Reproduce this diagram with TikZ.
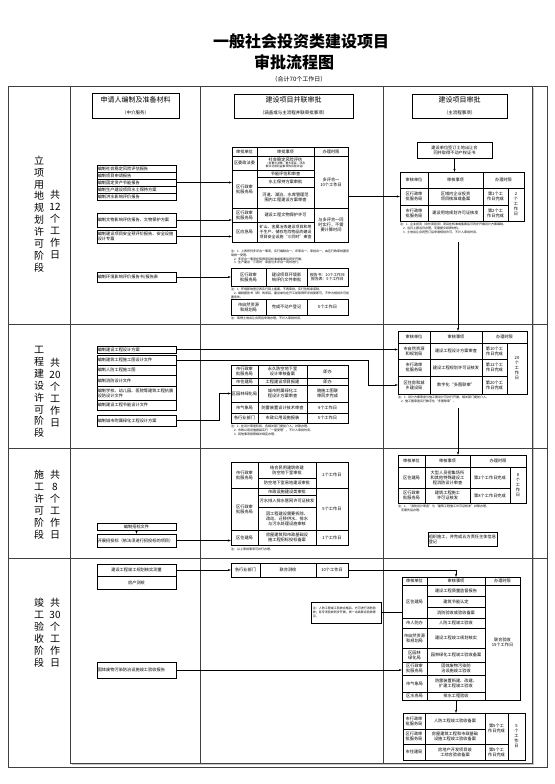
\documentclass[tikz,border=0pt]{standalone}
\usepackage{fontspec}
\setmainfont{Noto Sans CJK SC}
\usetikzlibrary{arrows.meta}
\XeTeXlinebreaklocale "zh"
\XeTeXlinebreakskip = 0pt
\tikzset{
  frame/.style={draw, line width=0.6pt, black!75},
  cellbox/.style={draw, line width=0.4pt, inner xsep=0.5pt, inner ysep=0.3pt, align=center, font=\fontsize{4.2}{5}\selectfont},
  lboxst/.style={cellbox, align=left, line width=0.5pt},
  hbox/.style={draw, line width=0.6pt, align=center, inner sep=1pt},
  notest/.style={align=left, inner sep=0pt, font=\fontsize{3}{3.7}\selectfont},
  stagest/.style={align=center, inner sep=0pt, font=\fontsize{10}{11.9}\selectfont},
  arr/.style={-{Stealth[length=3pt,width=2.2pt]}, line width=0.45pt},
  link/.style={line width=0.45pt}
}
\newcommand\tcell[7][]{%
  \pgfmathsetmacro\cellw{#5-#3}%
  \pgfmathsetmacro\cellh{#6-#4}%
  \pgfmathsetmacro\cellt{#5-#3-1.5}%
  \node[cellbox,minimum width=\cellw pt,minimum height=\cellh pt,text width=\cellt pt,#1] (#2) at ({(#3+#5)/2},{(#4+#6)/2}) {#7};}
\newcommand\lbox[6]{\tcell[lboxst]{#1}{#2}{#3}{#4}{#5}{#6}}
\begin{document}
\begin{tikzpicture}[x=1pt,y=-1pt]
\useasboundingbox (0,0) rectangle (554,784);
% title
\node[font=\fontsize{16}{18}\selectfont\bfseries] (title1) at (301,41) {一般社会投资类建设项目};
\node[font=\fontsize{16}{18}\selectfont\bfseries] (title2) at (294,62) {审批流程图};
\node[font=\fontsize{6}{7}\selectfont] (title3) at (299,79) {（合计70个工作日）};
% frame
\draw[gray!45, line width=1pt] (533.5,88) -- (533.5,764.5) -- (72,764.5);
\draw[frame] (8,86) rectangle (547,767);
\draw[frame] (70,86) -- (70,763) -- (532,763) -- (532,86);
\draw[frame] (200,86) -- (200,763);
\draw[frame] (383,86) -- (383,763);
\draw[frame] (8,324) -- (547,324);
\draw[frame] (8,448) -- (547,448);
\draw[frame] (8,558) -- (547,558);
% headers
\node[hbox, minimum width=87pt, minimum height=25pt] (h1) at (135.5,105.5) {{\fontsize{7}{9}\selectfont 申请人编制及准备材料}\\{\fontsize{4.5}{6}\selectfont （中介服务）}};
\node[hbox, minimum width=119pt, minimum height=24pt] (h2) at (293.5,106) {{\fontsize{7}{9}\selectfont 建设项目并联审批}\\{\fontsize{4.5}{6}\selectfont （涵盖或与主流程并联审批事项）}};
\node[hbox, minimum width=95pt, minimum height=24pt] (h3) at (459.5,106) {{\fontsize{7}{9}\selectfont 建设项目审批}\\{\fontsize{4.5}{6}\selectfont （主流程事项）}};
% stage labels
\node[stagest] (sl1a) at (39,214) {立\\项\\用\\地\\规\\划\\许\\可\\阶\\段};
\node[stagest] (sl1b) at (55,224.5) {共\\12\\个\\工\\作\\日};
\node[stagest] (sl2a) at (39,392) {工\\程\\建\\设\\许\\可\\阶\\段};
\node[stagest] (sl2b) at (55,392.5) {共\\20\\个\\工\\作\\日};
\node[stagest] (sl3a) at (39,504.5) {施\\工\\许\\可\\阶\\段};
\node[stagest] (sl3b) at (55,504.5) {共\\8\\个\\工\\作\\日};
\node[stagest] (sl4a) at (39,632.5) {竣\\工\\验\\收\\阶\\段};
\node[stagest] (sl4b) at (55,632.5) {共\\30\\个\\工\\作\\日};
% ===== stage 1 =====
\lbox{a1}{97}{165}{176}{172}{编制社会稳定风险评估报告}
\lbox{a2}{97}{172}{176}{179}{编制项目申请报告}
\lbox{a3}{97}{179}{176}{186}{编制固定资产节能报告}
\lbox{a4}{97}{186}{176}{193}{编制生产建设项目水土保持方案}
\lbox{a5}{97}{193}{176}{200}{编制洪水影响评价报告}
\lbox{a6}{97}{213}{176}{227}{编制文物影响评估报告、文物保护方案}
\lbox{a7}{97}{230}{176}{243}{编制建设项目安全预评价报告、安全设施设计专篇}
\lbox{a8}{97}{272}{176}{282}{编制环境影响评价报告书/报告表}
% T1
\tcell{t1h1}{232}{147}{257}{156}{审批单位}
\tcell{t1h2}{257}{147}{314}{156}{审批事项}
\tcell{t1h3}{314}{147}{348}{156}{办理时限}
\tcell{t1u1}{232}{156}{257}{170}{区委政法委}
\tcell{t1i1}{257}{156}{314}{170}{社会稳定风险评估\\{\fontsize{2.8}{3.3}\selectfont （含重大决策、重大项目、涉及群众切身利益事项的风险评估）\par}}
\tcell{t1u2}{232}{170}{257}{208}{区行政审批服务局}
\tcell{t1i2}{257}{170}{314}{177}{节能评估和审查}
\tcell{t1i3}{257}{177}{314}{187}{水土保持方案审批}
\tcell{t1i4}{257}{187}{314}{208}{河道、湖泊、水库管理范围内工程建设方案审查}
\tcell{t1t1}{314}{156}{348}{208}{多评合一\\10个工作日}
\tcell{t1u3}{232}{208}{257}{222}{区行政审批服务局}
\tcell{t1i5}{257}{208}{314}{222}{建设工程文物保护许可}
\tcell{t1u4}{232}{222}{257}{242}{区应急局}
\tcell[font=\fontsize{4}{4.6}\selectfont]{t1i6}{257}{222}{314}{242}{矿山、金属冶炼建设项目和用于生产、储存危险物品的建设项目安全设施“三同时”审查}
\tcell{t1t2}{314}{208}{348}{242}{与多评合一同时实行，不需要计算时间}
\node[notest, text width=118pt, anchor=north west] (nt1) at (231,250) {注：1. 上表所列多评合一事项，实行编制合一、评审合一、审批合一，由区行政审批服务局统一受理。\\\ \ \ 2. 多评合一事项在取得项目核准或备案后同步开展。\\\ \ \ 3. 生产建设“三同时”审查与多评合一同时进行。};
% T2
\tcell{t2u}{231}{268}{266}{286}{区行政审批服务局}
\tcell{t2i}{266}{268}{307}{286}{建设项目环境影响评价文件审批}
\tcell[font=\fontsize{3.8}{4.6}\selectfont]{t2t}{307}{268}{348}{286}{报告书：10个工作日\\报告表：5个工作日}
\node[notest, text width=118pt, anchor=north west] (nt2) at (231,288) {注：1. 环境影响登记表实行网上备案，不再审批，实行告知承诺制。\\\ \ \ 2. 编制报告书（表）的项目，建设单位在开工前取得环评批复即可，不作为规划许可前置条件。};
% T3
\tcell{t3u}{231}{299}{266}{315}{市自然资源和规划局}
\tcell{t3i}{266}{299}{307}{315}{完成不动产登记}
\tcell{t3t}{307}{299}{348}{315}{5个工作日}
\node[notest, text width=118pt, anchor=north west] (nt3) at (231,317) {注：取得土地出让合同后申请办理，不计入审批时间。};
% right stage 1
\tcell[line width=0.5pt]{r0}{417}{142}{492}{158}{建设单位签订土地出让合同并取得不动产权证书}
\tcell{r1h1}{400}{172}{428}{188}{审核单位}
\tcell{r1h2}{428}{172}{483}{188}{审核事项}
\tcell{r1h3}{483}{172}{524}{188}{办理时限}
\tcell{r1u1}{400}{188}{428}{205}{区行政审批服务局}
\tcell{r1i1}{428}{188}{483}{205}{区域内企业投资项目核准或备案}
\tcell{r1t1}{483}{188}{508}{205}{第1个工作日完成}
\tcell{r1u2}{400}{205}{428}{221}{市行政审批服务局}
\tcell{r1i2}{428}{205}{483}{221}{建设用地规划许可证核发}
\tcell{r1t2}{483}{205}{508}{221}{第2个工作日完成}
\tcell{r1s}{508}{188}{524}{221}{2\\个\\工\\作\\日}
\node[notest, text width=124pt, anchor=north west] (nr1) at (400,223) {注：1. 企业投资（含外商投资）项目在核准或备案后可同步开展设计方案编制。\\\ \ \ 2. 当日上报当日办理，无需提交纸质材料。\\\ \ \ 3. 土地出让合同签订后申请规划许可，不计入审批时间。};
\coordinate (s1) at (458,242);
% stage 1 connectors
\draw[arr] (r0.south) -- (r0.south |- r1h2.north);
\draw[arr] (a3.east) -- (a3.east -| t1u2.west);
\draw[arr] (a6.east) -- (a6.east -| t1u3.west);
\draw[arr] (a7.east) -- (a7.east -| t1u4.west);
\draw[arr] (a8.east) -- (a8.east -| t2u.west);
\draw[arr] (t1t1.east |- r1u1.west) -- (r1u1.west);
% ===== stage 2 =====
\lbox{b1}{97}{346}{176}{353}{编制建设工程设计方案}
\lbox{b2}{97}{355}{176}{365}{编制建筑工程施工图设计文件}
\lbox{b3}{97}{365}{176}{375}{编制人防工程施工图}
\lbox{b4}{97}{375}{176}{386}{编制消防设计文件}
\lbox{b5}{97}{386}{176}{400}{编制学校、幼儿园、医院等建筑工程抗震设防设计文件}
\lbox{b6}{97}{400}{176}{410}{编制建设工程节能设计文件}
\lbox{b7}{97}{415}{176}{426}{编制城市附属绿化工程设计方案}
% T4
\tcell{t4u1}{231}{365}{258}{378}{市行政审批服务局}
\tcell{t4i1}{258}{365}{307}{378}{永久防空地下室设计审核备案}
\tcell{t4t1}{307}{365}{348}{378}{即办}
\tcell{t4u2}{231}{378}{258}{385}{市住建局}
\tcell{t4i2}{258}{378}{307}{385}{工程建设项目报建}
\tcell{t4t2}{307}{378}{348}{385}{即办}
\tcell{t4u3}{231}{385}{258}{402}{区园林绿化局}
\tcell{t4i3}{258}{385}{307}{402}{城市附属绿化工程设计方案审查}
\tcell{t4t3}{307}{385}{348}{402}{随施工图联审同步完成}
\tcell{t4u4}{231}{402}{258}{413}{市气象局}
\tcell{t4i4}{258}{402}{307}{413}{防雷装置设计技术审查}
\tcell{t4t4}{307}{402}{348}{413}{4个工作日}
\tcell{t4u5}{231}{413}{258}{423}{各行业部门}
\tcell{t4i5}{258}{413}{307}{423}{市政公用设施报装}
\tcell{t4t5}{307}{413}{348}{423}{5个工作日}
\node[notest, text width=118pt, anchor=north west] (nt4) at (231,425) {注：1. 在设计审查阶段，各相关部门提前介入，并联办理。\\\ \ \ 2. 市政公用设施报装实行“一窗受理”，不计入审批时间。\\\ \ \ 3. 其他事项按照相关规定办理。};
% R2
\tcell{r2h1}{398}{331}{430}{343}{审核单位}
\tcell{r2h2}{430}{331}{482}{343}{审核事项}
\tcell{r2h3}{482}{331}{527}{343}{办理时限}
\tcell{r2u1}{398}{343}{430}{359}{市自然资源和规划局}
\tcell{r2i1}{430}{343}{482}{359}{建设工程设计方案审查}
\tcell{r2t1}{482}{343}{507}{359}{第10个工作日完成}
\tcell{r2u2}{398}{359}{430}{376}{市行政审批服务局}
\tcell{r2i2}{430}{359}{482}{376}{建设工程规划许可证核发}
\tcell{r2t2}{482}{359}{507}{376}{第12个工作日完成}
\tcell{r2u3}{398}{376}{430}{394}{区住房和城乡建设局}
\tcell{r2i3}{430}{376}{482}{394}{数字化“多图联审”}
\tcell{r2t3}{482}{376}{507}{394}{第20个工作日完成}
\tcell{r2s}{507}{343}{527}{394}{20\\个\\工\\作\\日}
\node[notest, text width=130pt, anchor=north west] (nr2) at (398,396) {注：1. 设计方案审查与施工图设计可并行开展，相关部门提前介入。\\\ \ \ 2. 施工图审查实行数字化“多图联审”。};
\coordinate (s2) at (458,408);
\coordinate (k1) at (368,360);
\coordinate (k2) at (219,410);
% stage 2 connectors
\draw[arr] (s1) -- (s1 |- r2h2.north);
\draw[arr] (b1.east) -- (b1.east -| r2u1.west);
\draw[arr] (b2.east) -- (b2.east -| k1) -- (k1 |- r2u3.west) -- (r2u3.west);
\draw[arr] (b7.east) -- (b7.east -| k2) -- (k2 |- t4u3.west) -- (t4u3.west);
% ===== stage 3 =====
\tcell[line width=0.5pt]{c1}{97}{523}{176}{530}{编制招标文件}
\lbox{c2}{97}{534}{176}{547}{开展招投标（依法须进行招投标的项目）}
% T5
\tcell{t5u1}{231}{462}{258}{488}{市行政审批服务局}
\tcell{t5i1}{258}{462}{316}{478}{结合民用建筑修建防空地下室审批}
\tcell{t5i2}{258}{478}{316}{488}{防空地下室易地建设审批}
\tcell{t5t1}{316}{462}{348}{488}{2个工作日}
\tcell{t5u2}{231}{488}{258}{530}{区行政审批服务局}
\tcell{t5i3}{258}{488}{316}{495}{市政设施建设类审批}
\tcell{t5i4}{258}{495}{316}{507}{污水排入排水管网许可证核发}
\tcell{t5i5}{258}{507}{316}{530}{因工程建设需要拆除、改动、迁移供水、排水与污水处理设施审核}
\tcell{t5t2}{316}{488}{348}{530}{5个工作日}
\tcell{t5u3}{231}{530}{258}{545}{区住建局}
\tcell{t5i6}{258}{530}{316}{545}{房屋建筑和市政基础设施工程招标投标备案}
\tcell{t5t3}{316}{530}{348}{545}{1个工作日}
\node[notest, text width=118pt, anchor=north west] (nt5) at (231,548) {注：以上审批事项可并行办理。};
% R3
\tcell{r3h1}{398}{455}{425}{467}{审核单位}
\tcell{r3h2}{425}{455}{470}{467}{审核事项}
\tcell{r3h3}{470}{455}{526}{467}{办理时限}
\tcell{r3u1}{398}{467}{425}{488}{区住建局}
\tcell{r3i1}{425}{467}{470}{488}{大型人员密集场所和其他特殊建设工程消防设计审查}
\tcell{r3t1}{470}{467}{510}{488}{第2个工作日完成}
\tcell{r3u2}{398}{488}{425}{503}{区行政审批服务局}
\tcell{r3i2}{425}{488}{470}{503}{建筑工程施工许可证核发}
\tcell{r3t2}{470}{488}{510}{503}{第8个工作日完成}
\tcell{r3s}{510}{467}{526}{503}{8\\个\\工\\作\\日}
\node[notest, text width=128pt, anchor=north west] (nr3) at (398,505) {注：1. “消防设计审查”与“建筑工程施工许可证核发”并联办理，\\\ \ \ 无需先后办理。};
\lbox{c3}{428}{532}{497}{546}{组织施工，并完成五方责任主体信息登记}
% stage 3 connectors
\draw[arr] (s2) -- (s2 |- r3h2.north);
\draw[arr] (c1.south) -- (c2.north);
\draw[arr] (c2.east) -- (c2.east -| t5u3.west);
% ===== stage 4 =====
\tcell[line width=0.5pt]{d1}{97}{564}{176}{576}{建设工程竣工规划核实测量}
\tcell[line width=0.5pt]{d2}{97}{576}{176}{589}{房产测绘}
\tcell{t6u}{231}{563}{260}{577}{各行业部门}
\tcell{t6i}{260}{563}{316}{577}{联合测绘}
\tcell{t6t}{316}{563}{348}{577}{10个工作日}
\tcell[notest, draw, line width=0.5pt, inner sep=1.5pt]{n1}{312}{602}{380}{623}{注：人防工程竣工验收合格后，方可进行消防验收；各专项验收同步开展，统一出具联合验收意见。}
\lbox{d3}{97}{662}{176}{678}{固体废物污染防治设施竣工验收报告}
% R4
\tcell{r4h1}{402}{577}{427}{585}{审核单位}
\tcell{r4h2}{427}{577}{485}{585}{审核事项}
\tcell{r4h3}{485}{577}{520}{585}{办理时限}
\tcell{r4u1}{402}{585}{427}{618}{区住建局}
\tcell{r4i1}{427}{585}{485}{596}{建设工程质量监督报告}
\tcell{r4i2}{427}{596}{485}{607}{建筑节能认定}
\tcell{r4i3}{427}{607}{485}{618}{消防验收或验收备案}
\tcell{r4u4}{402}{618}{427}{628}{市人防办}
\tcell{r4i4}{427}{618}{485}{628}{人防工程竣工验收}
\tcell{r4u5}{402}{628}{427}{648}{市自然资源和规划局}
\tcell{r4i5}{427}{628}{485}{648}{建设工程竣工规划核实}
\tcell{r4u6}{402}{648}{427}{662}{区园林绿化局}
\tcell{r4i6}{427}{648}{485}{662}{园林绿化工程竣工验收备案}
\tcell{r4u7}{402}{662}{427}{675}{区行政审批服务局}
\tcell{r4i7}{427}{662}{485}{675}{固体废物污染防治设施竣工验收}
\tcell{r4u8}{402}{675}{427}{692}{市气象局}
\tcell{r4i8}{427}{675}{485}{692}{防雷装置新建、改建、扩建工程竣工验收}
\tcell{r4u9}{402}{692}{427}{700}{区水务局}
\tcell{r4i9}{427}{692}{485}{700}{排水工程验收}
\tcell{r4t}{485}{585}{520}{700}{联合验收\\15个工作日}
% R5
\tcell{r5u1}{403}{713}{425}{729}{市行政审批服务局}
\tcell{r5i1}{425}{713}{485}{729}{人防工程竣工验收备案}
\tcell{r5u2}{403}{729}{425}{744}{区行政审批服务局}
\tcell{r5i2}{425}{729}{485}{744}{房屋建筑工程和市政基础设施工程竣工验收备案}
\tcell{r5t1}{485}{713}{508}{744}{第5个工作日完成}
\tcell{r5u3}{403}{744}{425}{760}{市住建局}
\tcell{r5i3}{425}{744}{485}{760}{房地产开发项目竣工综合验收备案}
\tcell{r5t3}{485}{744}{508}{760}{第5个工作日完成}
\tcell{r5s}{508}{713}{525}{760}{5\\个\\工\\作\\日}
% stage 4 connectors
\draw[arr] (d1.east) -- (d1.east -| t6u.west);
\draw[arr] (t6t.east) -| (r4h2.north);
\draw[link] (n1.east) -- (n1.east -| r4u1.west);
\draw[arr] (d3.east) -- (d3.east -| r4u7.west);
\draw[arr] (r4i9.south) -- (r4i9.south |- r5i1.north);
\end{tikzpicture}
\end{document}
